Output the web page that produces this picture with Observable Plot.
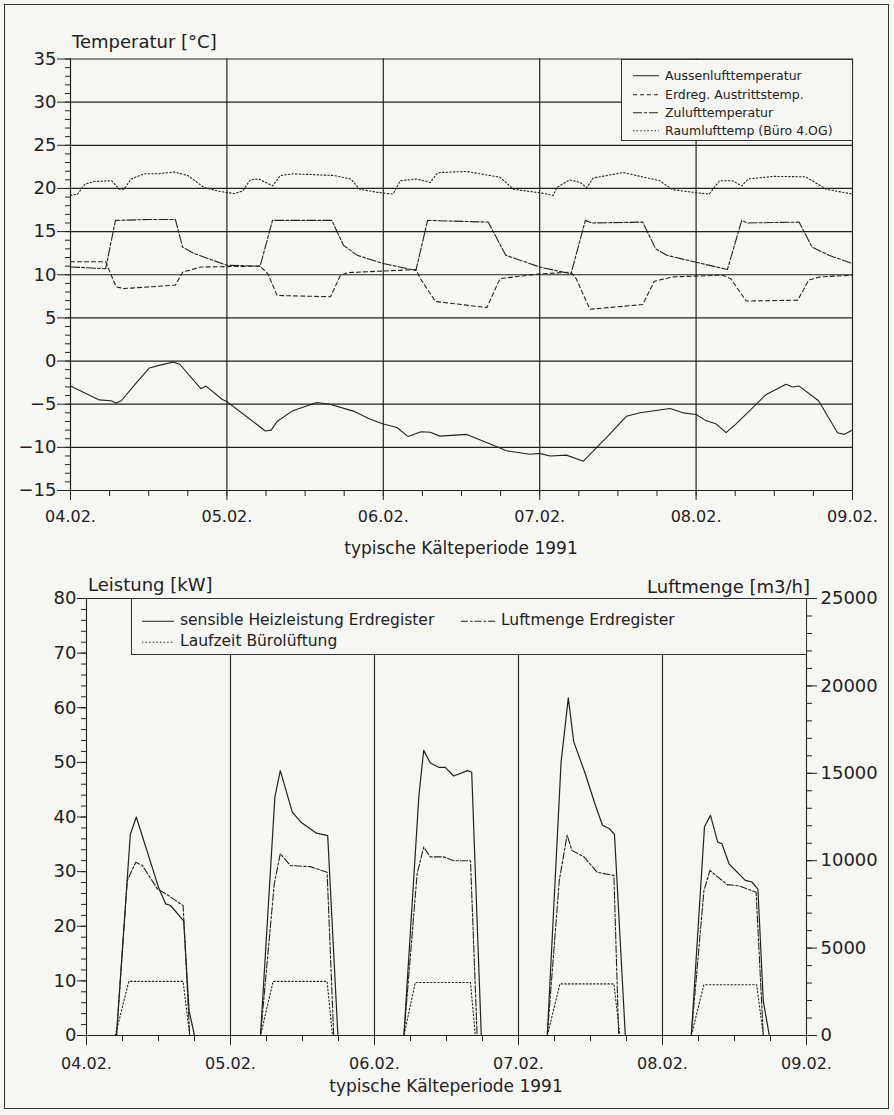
<!DOCTYPE html>
<html><head><meta charset="utf-8">
<script src="https://cdn.jsdelivr.net/npm/d3@7"></script>
<script src="https://cdn.jsdelivr.net/npm/@observablehq/plot@0.6"></script>
<style>
html,body{margin:0;padding:0;background:#f6f6f3;}
#page{position:relative;width:894px;height:1115px;overflow:hidden;font-family:"DejaVu Sans",sans-serif;color:#222;}
#frame{position:absolute;left:4px;top:4px;width:885px;height:1105px;border:1.5px solid #333;box-sizing:border-box;}
.chart{position:absolute;left:0;}
.lbl{position:absolute;white-space:nowrap;font-size:17px;line-height:1;color:#222;}
.legend{position:absolute;border:1.4px solid #333;box-sizing:border-box;background:#f6f6f3;}
.item{position:absolute;white-space:nowrap;line-height:1;color:#222;display:flex;align-items:center;}
.item svg{margin-right:6px;}
</style></head>
<body>
<div id="page">
  <div id="frame"></div>
  <div id="top" class="chart" style="top:0"></div>
  <div id="bottom" class="chart" style="top:545px"></div>
</div>
<script>
// ---------- data (hours since 04.02. 00:00) ----------
const dayLabels = ["04.02.","05.02.","06.02.","07.02.","08.02.","09.02."];
const xTitle = "typische Kälteperiode 1991";

// top chart: temperatures [°C]
const aussenluft = [[0,-2.9],[4.4,-4.5],[6.2,-4.6],[7.0,-4.85],[7.8,-4.6],[9.8,-2.8],[12.1,-0.8],[13.6,-0.5],[15.8,-0.1],[16.8,-0.4],[20.0,-3.2],[20.8,-2.9],[23.3,-4.45],[24.0,-4.7],[26.6,-6.2],[29.9,-8.1],[30.8,-8.0],[31.7,-7.0],[34.0,-5.8],[37.8,-4.8],[39.8,-5.0],[43.4,-5.8],[46.0,-6.75],[48.0,-7.3],[50.1,-7.7],[51.8,-8.75],[53.8,-8.2],[55.2,-8.25],[56.7,-8.7],[60.8,-8.5],[64.4,-9.6],[66.9,-10.4],[70.5,-10.8],[72.0,-10.7],[73.6,-11.0],[76.1,-10.9],[78.7,-11.6],[82.2,-8.9],[85.3,-6.4],[87.4,-6.0],[92.0,-5.5],[94.0,-6.0],[96.0,-6.2],[97.5,-6.9],[99.1,-7.3],[100.6,-8.3],[102.1,-7.3],[104.7,-5.4],[106.7,-3.9],[109.8,-2.7],[110.8,-3.0],[111.8,-2.9],[114.8,-4.6],[117.7,-8.3],[118.7,-8.5],[120,-8.0]];
const erdregAustritt = [[0,11.5],[5.4,11.5],[7.0,8.6],[8.2,8.4],[16.1,8.8],[17.2,10.3],[20.0,10.9],[29.1,11.0],[30.3,10.1],[31.7,7.6],[39.9,7.45],[41.4,9.9],[42.5,10.25],[53.0,10.6],[53.7,9.55],[56.0,6.9],[63.9,6.2],[65.9,9.55],[72.0,10.1],[76.8,10.3],[77.6,9.55],[79.7,6.0],[87.8,6.55],[89.6,9.25],[92.4,9.75],[100.1,9.95],[101.3,9.55],[103.7,6.95],[111.6,7.06],[113.3,9.4],[115.0,9.75],[120,9.95]];
const zuluft = [[0,10.9],[5.4,10.7],[6.9,16.3],[12,16.4],[16.1,16.4],[17.2,13.2],[19.0,12.45],[24.0,11.1],[29.1,11.0],[31.0,16.3],[40.1,16.3],[41.9,13.4],[44.0,12.25],[48.0,11.3],[53.0,10.5],[54.8,16.3],[64.1,16.1],[66.8,12.25],[72.0,10.9],[76.8,10.1],[79.0,16.3],[80.0,16.0],[87.8,16.1],[89.8,13.0],[91.5,12.25],[100.8,10.6],[103.0,16.3],[103.8,16.0],[111.8,16.1],[113.8,13.2],[116.4,12.25],[120,11.3]];
const raumluft = [[0,19.2],[1.1,19.35],[2.2,20.5],[3.6,20.8],[6.3,20.9],[7.5,19.9],[8.2,19.9],[9.3,21.1],[11.3,21.7],[13.4,21.7],[15.9,21.9],[18.0,21.5],[20.5,20.1],[22.6,19.7],[25.1,19.4],[26.4,19.7],[27.6,21.0],[28.9,21.1],[31.0,20.3],[32.2,21.5],[34.2,21.7],[40.4,21.5],[43.0,21.1],[44.4,19.9],[47.1,19.55],[49.5,19.35],[50.6,20.9],[53.1,21.1],[55.2,20.7],[56.2,21.7],[56.7,21.85],[60.8,21.97],[65.9,21.3],[68.0,19.9],[72.0,19.5],[74.1,19.2],[74.6,20.1],[76.6,21.0],[78.2,20.7],[79.2,20.1],[80.2,21.2],[84.8,21.85],[87.4,21.4],[90.4,20.9],[92.4,19.85],[95.6,19.55],[98.0,19.35],[99.6,20.9],[101.6,20.9],[103.0,20.3],[104.0,21.1],[107.8,21.4],[112.8,21.35],[116.0,19.9],[120,19.35]];
const tempLegend = ["Aussenlufttemperatur","Erdreg. Austrittstemp.","Zulufttemperatur","Raumlufttemp (Büro 4.OG)"];

// bottom chart: power [kW] (left) and air flow [m3/h] (right)
const heizleistung = [[0,0],[5.0,0],[7.3,36.8],[8.3,40.0],[12.1,26.8],[13.2,24.1],[14.0,23.8],[16.2,21.0],[17.1,4.5],[18.0,0],[29.0,0],[31.4,43.7],[32.3,48.5],[34.3,40.9],[35.7,39.1],[38.2,37.1],[40.2,36.6],[41.9,0],[52.9,0],[55.4,43.9],[56.2,52.2],[57.3,49.9],[58.7,49.1],[59.8,49.1],[61.2,47.5],[63.5,48.5],[64.2,48.2],[65.8,0],[76.8,0],[79.1,50.1],[80.3,61.8],[81.2,53.8],[83.1,48.0],[84.8,42.2],[86.0,38.5],[87.1,37.9],[88.0,36.8],[89.8,0],[100.8,0],[103.0,38.2],[104.0,40.3],[105.2,35.4],[105.9,35.1],[107.1,31.4],[109.8,28.4],[110.9,28.1],[111.9,26.8],[112.8,6.3],[113.8,0],[120,0]];
const luftmenge = [[0,0],[5.0,0],[6.8,8870],[8.2,9910],[9.3,9730],[11.8,8390],[13.7,8000],[16.1,7430],[17.2,0],[29.0,0],[31.3,8690],[32.3,10400],[34.0,9720],[37.3,9660],[40.1,9340],[41.2,0],[52.9,0],[55.1,9250],[56.2,10780],[57.3,10220],[59.5,10220],[61.2,10000],[64.0,10000],[65.1,0],[76.8,0],[78.8,8870],[80.1,11470],[80.9,10590],[82.9,10220],[85.1,9340],[87.9,9160],[88.7,0],[100.8,0],[102.9,8280],[103.9,9440],[104.9,9160],[106.8,8630],[108.8,8560],[111.6,8190],[112.8,0],[120,0]];
const laufzeit = [[0,0],[4.8,0],[7.05,9.9],[16.1,9.9],[17.2,0],[29.0,0],[31.1,9.9],[40.1,9.9],[41.0,0],[52.9,0],[54.8,9.7],[64.0,9.7],[64.8,0],[76.8,0],[78.9,9.45],[87.9,9.45],[88.9,0],[100.8,0],[102.9,9.3],[111.7,9.3],[112.8,0],[120,0]];
const powerLegend = ["sensible Heizleistung Erdregister","Luftmenge Erdregister","Laufzeit Bürolüftung"];

// ---------- helpers ----------
const ink = "#222";
const font = "DejaVu Sans, sans-serif";
const dayTicks = dayLabels.map((_, i) => i * 24);
const hourTicks = d3.range(0, 121, 6);
const fmtDay = d => dayLabels[Math.round(d / 24)];
const X = d => d[0], Y = d => d[1];
const dashes = {solid: null, dash: "4,3", dashdot: "9,2,3,2", dot: "1.4,2.2", dash2: "7,2,2.5,2"};

// ---------- top chart ----------
const topPlot = Plot.plot({
  width: 894, height: 545,
  marginLeft: 70, marginRight: 42, marginTop: 58.5, marginBottom: 55,
  style: {background: "transparent", color: ink, fontFamily: font, fontSize: "17px", overflow: "visible"},
  x: {domain: [0, 120], axis: null},
  y: {domain: [-15, 35], axis: null},
  marks: [
    Plot.ruleY(d3.range(-15, 36, 5), {stroke: ink, strokeWidth: 1.2}),
    Plot.ruleX(dayTicks, {stroke: ink, strokeWidth: 1.2}),
    Plot.axisY(d3.range(-15, 36, 5), {tickSize: 13, tickPadding: 1, fontSize: 18, label: null, stroke: ink}),
    Plot.axisY(d3.range(-15, 36, 1), {tickSize: 5, tickFormat: () => "", label: null, stroke: ink}),
    Plot.axisX(dayTicks, {tickSize: 10, tickPadding: 10, tickFormat: fmtDay, fontSize: 16, label: null, stroke: ink}),
    Plot.axisX(hourTicks, {tickSize: 6, tickFormat: () => "", label: null, stroke: ink}),
    Plot.line(raumluft, {x: X, y: Y, stroke: ink, strokeWidth: 1.1, strokeDasharray: dashes.dot}),
    Plot.line(zuluft, {x: X, y: Y, stroke: ink, strokeWidth: 1.1, strokeDasharray: dashes.dashdot}),
    Plot.line(erdregAustritt, {x: X, y: Y, stroke: ink, strokeWidth: 1.1, strokeDasharray: dashes.dash}),
    Plot.line(aussenluft, {x: X, y: Y, stroke: ink, strokeWidth: 1.1})
  ]
});
document.getElementById("top").appendChild(topPlot);

// ---------- bottom chart ----------
const flowMax = 25000, powerMax = 80;
const flowToY = v => v * powerMax / flowMax;
const bottomPlot = Plot.plot({
  width: 894, height: 555,
  marginLeft: 86, marginRight: 88, marginTop: 53, marginBottom: 65,
  style: {background: "transparent", color: ink, fontFamily: font, fontSize: "17px", overflow: "visible"},
  x: {domain: [0, 120], axis: null},
  y: {domain: [0, powerMax], axis: null},
  marks: [
    Plot.ruleY([0, powerMax], {stroke: ink, strokeWidth: 1.2}),
    Plot.ruleX(dayTicks, {stroke: ink, strokeWidth: 1.1}),
    Plot.axisY(d3.range(0, 81, 10), {tickSize: 9, tickPadding: 1, fontSize: 18, label: null, stroke: ink}),
    Plot.axisY(d3.range(0, 81, 2), {tickSize: 5, tickFormat: () => "", label: null, stroke: ink}),
    Plot.axisY(d3.range(0, flowMax + 1, 5000), {anchor: "right", y: flowToY, tickFormat: d => String(d), tickSize: 10, tickPadding: 4, fontSize: 18, label: null, stroke: ink}),
    Plot.axisY(d3.range(0, flowMax + 1, 1000), {anchor: "right", y: flowToY, tickFormat: () => "", tickSize: 5, label: null, stroke: ink}),
    Plot.axisX(dayTicks, {tickSize: 10, tickPadding: 12, tickFormat: fmtDay, fontSize: 16, label: null, stroke: ink}),
    Plot.axisX(hourTicks, {tickSize: 6, tickFormat: () => "", label: null, stroke: ink}),
    Plot.line(laufzeit, {x: X, y: Y, stroke: ink, strokeWidth: 1.1, strokeDasharray: dashes.dot}),
    Plot.line(luftmenge, {x: X, y: d => flowToY(d[1]), stroke: ink, strokeWidth: 1.1, strokeDasharray: dashes.dash2}),
    Plot.line(heizleistung, {x: X, y: Y, stroke: ink, strokeWidth: 1.2})
  ]
});
document.getElementById("bottom").appendChild(bottomPlot);

// ---------- texts & legends ----------
const page = document.getElementById("page");
function label(text, style) {
  const d = document.createElement("div");
  d.className = "lbl"; d.textContent = text;
  Object.assign(d.style, style);
  page.appendChild(d);
  return d;
}
label("Temperatur [°C]", {left: "72px", top: "33px", fontSize: "18px"});
label(xTitle, {left: "461px", top: "540px", transform: "translateX(-50%)", fontSize: "17px"});
label("Leistung [kW]", {left: "88px", top: "576px", fontSize: "18px"});
label("Luftmenge [m3/h]", {left: "810px", top: "578px", transform: "translateX(-100%)", fontSize: "18px"});
label(xTitle, {left: "446px", top: "1078px", transform: "translateX(-50%)", fontSize: "17px"});

function sample(dash, w) {
  const ns = "http://www.w3.org/2000/svg";
  const s = document.createElementNS(ns, "svg");
  s.setAttribute("width", w); s.setAttribute("height", 6);
  const l = document.createElementNS(ns, "line");
  l.setAttribute("x1", 0); l.setAttribute("x2", w); l.setAttribute("y1", 3); l.setAttribute("y2", 3);
  l.setAttribute("stroke", ink); l.setAttribute("stroke-width", 1.1);
  if (dash) l.setAttribute("stroke-dasharray", dash);
  s.appendChild(l);
  return s;
}
function legendBox(box, items) {
  const b = document.createElement("div");
  b.className = "legend";
  Object.assign(b.style, box);
  page.appendChild(b);
  items.forEach(it => {
    const d = document.createElement("div");
    d.className = "item";
    Object.assign(d.style, {left: it.x + "px", top: it.y + "px", fontSize: it.fs + "px", transform: "translateY(-50%)"});
    d.appendChild(sample(it.dash, it.w));
    d.appendChild(document.createTextNode(it.text));
    b.appendChild(d);
  });
}
legendBox({left: "621px", top: "59px", width: "232px", height: "82px"}, [
  {text: tempLegend[0], dash: dashes.solid, x: 11, y: 16, w: 26, fs: 12.5},
  {text: tempLegend[1], dash: dashes.dash, x: 11, y: 35, w: 26, fs: 12.5},
  {text: tempLegend[2], dash: dashes.dashdot, x: 11, y: 53, w: 26, fs: 12.5},
  {text: tempLegend[3], dash: dashes.dot, x: 11, y: 71, w: 26, fs: 12.5}
]);
legendBox({left: "131px", top: "598px", width: "676px", height: "57px"}, [
  {text: powerLegend[0], dash: dashes.solid, x: 10, y: 22, w: 32, fs: 15.5},
  {text: powerLegend[1], dash: dashes.dash2, x: 329, y: 22, w: 34, fs: 15.5},
  {text: powerLegend[2], dash: dashes.dot, x: 10, y: 43, w: 32, fs: 15.5}
]);
</script>
</body></html>
